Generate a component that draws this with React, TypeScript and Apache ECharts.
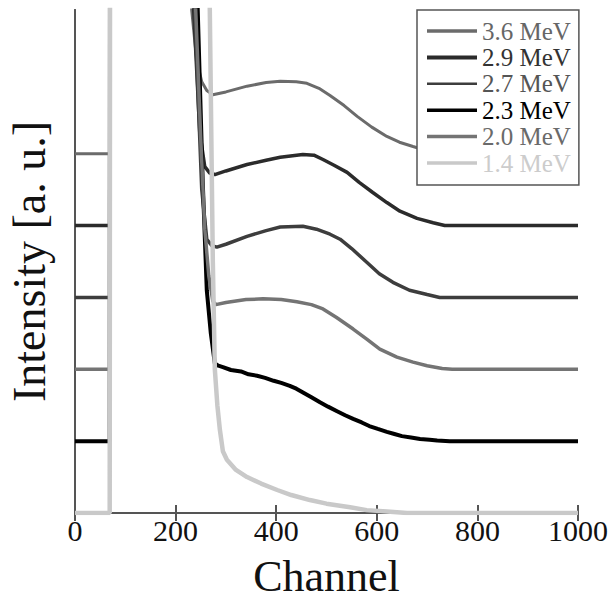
import React, { useEffect, useRef } from "react";
import * as echarts from "echarts";

const seriesNames = ["3.6 MeV", "2.9 MeV", "2.7 MeV", "2.3 MeV", "2.0 MeV", "1.4 MeV"];
const offsets = [5, 4, 3, 1, 2, 0];
const xTickValues = [0, 200, 400, 600, 800, 1000];
const lineColors = ["#6b6b6b", "#2b2b2b", "#3d3d3d", "#000000", "#747474", "#c9c9c9"];
const textColors = ["#666666", "#333333", "#555555", "#000000", "#6a6a6a", "#cccccc"];
const lineWidths = [3, 3.5, 3.5, 4, 3.5, 4.5];
const legendWidths = [3.5, 4, 2.5, 3.5, 3.5, 3.5];

const ch36 = [0, 69, 70, 225, 232, 242, 252, 262, 274, 300, 342, 380, 408, 440, 461, 485, 507, 535, 561, 590, 620, 645, 672, 700, 725, 1000];
const v36 = [0, 0, 12, 12, 2.0, 1.3, 1.0, 0.88, 0.82, 0.86, 0.94, 0.99, 1.01, 1.0, 0.98, 0.91, 0.81, 0.67, 0.52, 0.37, 0.24, 0.16, 0.1, 0.04, 0, 0];

const ch29 = [0, 69, 70, 225, 236, 248, 258, 268, 278, 300, 342, 380, 408, 453, 475, 493, 515, 541, 565, 592, 620, 646, 680, 712, 735, 1000];
const v29 = [0, 0, 12, 12, 3.0, 1.3, 0.82, 0.73, 0.71, 0.76, 0.85, 0.91, 0.95, 0.99, 0.98, 0.92, 0.84, 0.74, 0.6, 0.46, 0.32, 0.2, 0.1, 0.04, 0, 0];

const ch27 = [0, 69, 70, 225, 238, 252, 262, 272, 282, 300, 342, 380, 408, 453, 480, 507, 527, 550, 580, 605, 632, 665, 700, 725, 1000];
const v27 = [0, 0, 12, 12, 4.0, 1.5, 0.81, 0.72, 0.7, 0.74, 0.85, 0.93, 0.98, 0.99, 0.95, 0.88, 0.81, 0.68, 0.49, 0.33, 0.21, 0.1, 0.04, 0, 0];

const ch23 = [0, 69, 70, 225, 244, 254, 262, 270, 278, 285, 294, 310, 330, 345, 362, 378, 395, 410, 427, 440, 455, 470, 487, 503, 520, 537, 553, 570, 585, 602, 620, 635, 650, 668, 686, 705, 720, 745, 1000];
const v23 = [0, 0, 12, 12, 6.0, 3.6, 2.1, 1.5, 1.08, 1.05, 1.03, 0.99, 0.97, 0.93, 0.91, 0.88, 0.84, 0.81, 0.77, 0.73, 0.67, 0.61, 0.54, 0.48, 0.42, 0.36, 0.31, 0.26, 0.21, 0.17, 0.13, 0.1, 0.07, 0.05, 0.03, 0.02, 0.01, 0, 0];

const ch20 = [0, 69, 70, 225, 240, 250, 258, 266, 274, 280, 300, 340, 374, 410, 441, 470, 493, 520, 553, 580, 606, 640, 672, 700, 730, 750, 1000];
const v20 = [0, 0, 12, 12, 5.0, 3.2, 1.95, 1.3, 0.95, 0.9, 0.93, 0.97, 0.98, 0.97, 0.94, 0.9, 0.84, 0.72, 0.56, 0.42, 0.28, 0.17, 0.1, 0.05, 0.01, 0, 0];

const ch14 = [0, 69, 70, 262, 268, 274, 278, 283, 288, 294, 302, 320, 342, 370, 402, 430, 467, 500, 547, 580, 620, 660, 1000];
const v14 = [0, 0, 12, 12, 7.0, 3.5, 2.0, 1.5, 1.16, 0.86, 0.74, 0.6, 0.5, 0.41, 0.32, 0.25, 0.18, 0.13, 0.08, 0.04, 0.02, 0, 0];

const channels = [ch36, ch29, ch27, ch23, ch20, ch14];
const values = [v36, v29, v27, v23, v20, v14];

const FONT = "'Liberation Serif', 'Times New Roman', serif";

export default function App() {
  const ref = useRef<HTMLDivElement>(null);
  useEffect(() => {
    if (!ref.current) return;
    const chart = echarts.init(ref.current, undefined, { renderer: "svg" });
    const series = seriesNames.map((name, i) => ({
      name,
      type: "line",
      symbol: "none",
      clip: true,
      data: channels[i].map((c, j) => [c, values[i][j] + offsets[i]]),
      lineStyle: { color: lineColors[i], width: lineWidths[i] },
      itemStyle: { color: lineColors[i] },
      z: 2 + i,
    }));
    const axisLine = { show: true, lineStyle: { color: "#555", width: 2 } };
    const tick = { show: true, inside: true, length: 8, lineStyle: { color: "#555", width: 2 } };
    chart.setOption({
      animation: false,
      backgroundColor: "#fff",
      grid: { left: 75, right: 38, top: 10, bottom: 86, containLabel: false, outerBoundsMode: "none" },
      legend: {
        orient: "vertical",
        left: 417,
        top: 10,
        backgroundColor: "#fff",
        borderColor: "#555",
        borderWidth: 1.5,
        borderRadius: 0,
        padding: [8, 8, 9, 10],
        itemWidth: 50,
        itemHeight: 26,
        itemGap: 0.4,
        itemSymbolKeepAspect: true,
        textStyle: { fontFamily: FONT, fontSize: 25, lineHeight: 26 },
        data: seriesNames.map((name, i) => ({
          name,
          icon: `path://M0,0H50V${legendWidths[i]}H0Z`,
          textStyle: { color: textColors[i] },
        })),
      },
      xAxis: [
        {
          type: "value",
          min: xTickValues[0],
          max: xTickValues[xTickValues.length - 1],
          interval: 200,
          position: "bottom",
          axisLine,
          axisTick: tick,
          axisLabel: {
            fontFamily: FONT,
            fontSize: 30,
            color: "#111",
            margin: 2,
            formatter: (v: number) => String(v),
          },
          splitLine: { show: false },
          name: "Channel",
          nameLocation: "middle",
          nameGap: 43,
          nameTextStyle: { fontFamily: FONT, fontSize: 44, lineHeight: 40, color: "#111" },
        },
        {
          type: "value",
          min: xTickValues[0],
          max: xTickValues[xTickValues.length - 1],
          interval: 200,
          position: "top",
          axisLine,
          axisTick: tick,
          axisLabel: { show: false },
          splitLine: { show: false },
        },
      ],
      yAxis: [
        {
          type: "value",
          min: 0,
          max: 7,
          interval: 1,
          position: "left",
          axisLine,
          axisTick: { show: false },
          axisLabel: { show: false },
          splitLine: { show: false },
          name: "Intensity [a. u.]",
          nameLocation: "middle",
          nameGap: 23,
          nameTextStyle: { fontFamily: FONT, fontSize: 46, color: "#111" },
        },
        {
          type: "value",
          min: 0,
          max: 7,
          interval: 1,
          position: "right",
          axisLine,
          axisTick: { show: false },
          axisLabel: { show: false },
          splitLine: { show: false },
        },
      ],
      series,
    });
    return () => chart.dispose();
  }, []);
  return <div ref={ref} style={{ width: 616, height: 599, position: "absolute", left: 0, top: 0 }} />;
}
